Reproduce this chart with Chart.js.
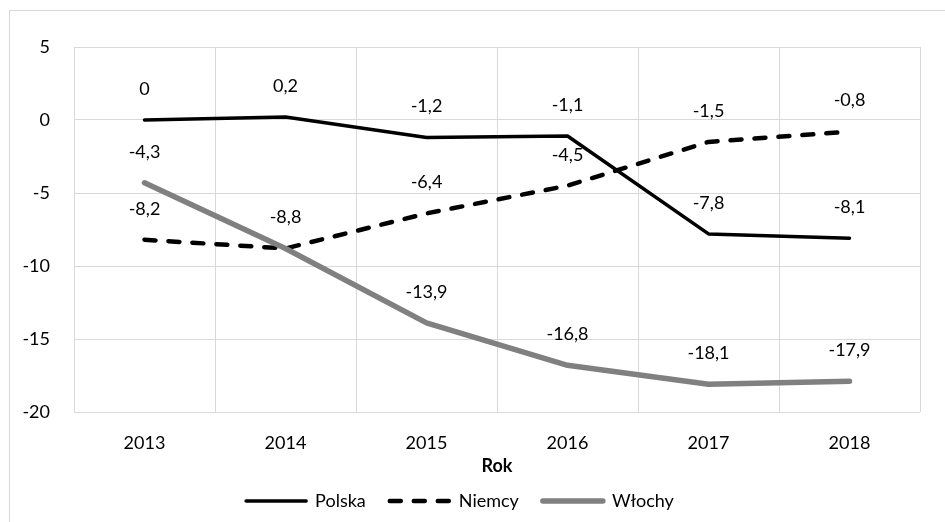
<!DOCTYPE html>
<html>
<head>
<meta charset="utf-8">
<script src="https://cdn.jsdelivr.net/npm/chart.js@4/dist/chart.umd.min.js"></script>
<style>
  html, body { margin: 0; padding: 0; background: #fff; }
  #wrap { width: 945px; height: 522px; position: relative; }
</style>
</head>
<body>
<div id="wrap"><canvas id="chart"></canvas></div>
<script>
// data
const years = ['2013', '2014', '2015', '2016', '2017', '2018'];
const polska = [0, 0.2, -1.2, -1.1, -7.8, -8.1];
const niemcy = [-8.2, -8.8, -6.4, -4.5, -1.5, -0.8];
const wlochy = [-4.3, -8.8, -13.9, -16.8, -18.1, -17.9];
const seriesNames = ['Polska', 'Niemcy', 'Włochy'];
const yTicks = { min: -20, max: 5, step: 5 };

const FONT = 'Lato, "Open Sans", sans-serif';
const FSIZE = 18;

// outer frame like the office chart box
const framePlugin = {
    id: 'frame',
    beforeDraw(chart) {
        const ctx = chart.ctx;
        ctx.save();
        ctx.strokeStyle = '#d9d9d9';
        ctx.lineWidth = 1;
        ctx.strokeRect(9.5, 10.5, 1000, 1000);
        ctx.restore();
    }
};

// value labels above each point (same label at same spot only once)
const valueLabels = {
    id: 'valueLabels',
    afterDatasetsDraw(chart) {
        const ctx = chart.ctx;
        const seen = {};
        ctx.save();
        ctx.font = FSIZE + 'px ' + FONT;
        ctx.fillStyle = '#000';
        ctx.textAlign = 'center';
        ctx.textBaseline = 'middle';
        chart.data.datasets.forEach((ds, i) => {
            const meta = chart.getDatasetMeta(i);
            meta.data.forEach((pt, j) => {
                const txt = String(ds.data[j]).replace('.', ',');
                const key = j + ':' + txt;
                if (seen[key]) return;
                seen[key] = true;
                ctx.fillText(txt, pt.x, pt.y - 31);
            });
        });
        ctx.restore();
    }
};

const ctx = document.getElementById('chart');
new Chart(ctx, {
    type: 'line',
    data: {
        labels: years,
        datasets: [
            {
                label: seriesNames[0], data: polska,
                borderColor: '#000', backgroundColor: '#000',
                borderWidth: 3.5, order: 2
            },
            {
                label: seriesNames[1], data: niemcy,
                borderColor: '#000', backgroundColor: '#000',
                borderWidth: 4.5, borderDash: [11, 13], order: 1
            },
            {
                label: seriesNames[2], data: wlochy,
                borderColor: '#808080', backgroundColor: '#808080',
                borderWidth: 5.5, order: 0
            }
        ]
    },
    options: {
        responsive: true,
        maintainAspectRatio: false,
        animation: false,
        elements: {
            line: { tension: 0, borderCapStyle: 'round', borderJoinStyle: 'round' },
            point: { radius: 0, hoverRadius: 0 }
        },
        layout: { padding: { top: 47, right: 25, bottom: 2, left: 0 } },
        scales: {
            x: {
                offset: true,
                grid: { color: '#d9d9d9', offset: true, drawTicks: false },
                border: { display: false },
                ticks: { color: '#000', padding: 20, font: { family: FONT, size: FSIZE } },
                title: {
                    display: true, text: 'Rok', color: '#000',
                    font: { family: FONT, size: FSIZE, weight: 'bold' },
                    padding: { top: 0, bottom: -9 }
                },
                afterFit(scale) { scale.height = 56; }
            },
            y: {
                min: yTicks.min, max: yTicks.max,
                grid: { color: '#d9d9d9', drawTicks: false },
                border: { display: false },
                ticks: { stepSize: yTicks.step, color: '#000', padding: 24, font: { family: FONT, size: FSIZE } },
                afterFit(scale) { scale.width = 74; }
            }
        },
        plugins: {
            legend: {
                position: 'bottom',
                labels: {
                    usePointStyle: true,
                    pointStyle: 'line',
                    pointStyleWidth: 60,
                    boxHeight: 16,
                    color: '#000',
                    padding: 24,
                    font: { family: FONT, size: FSIZE },
                    sort: (a, b) => a.datasetIndex - b.datasetIndex,
                    generateLabels(chart) {
                        const items = Chart.defaults.plugins.legend.labels.generateLabels(chart);
                        items.forEach(it => {
                            const ds = chart.data.datasets[it.datasetIndex];
                            it.lineDash = ds.borderDash || [];
                            it.lineWidth = ds.borderWidth;
                            it.lineCap = 'round';
                            it.strokeStyle = ds.borderColor;
                        });
                        return items;
                    }
                }
            },
            tooltip: { enabled: false }
        }
    },
    plugins: [framePlugin, valueLabels]
});
</script>
</body>
</html>
